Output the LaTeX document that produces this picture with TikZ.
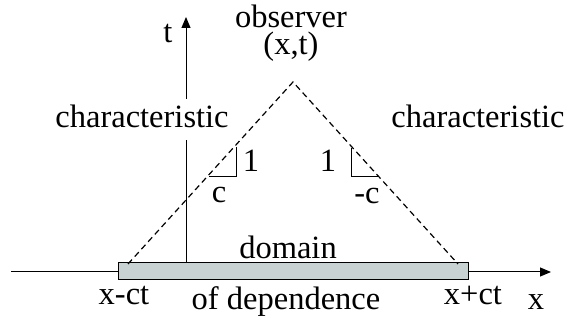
\documentclass[tikz,border=0pt]{standalone}
\usepackage{fontspec}
\setmainfont{Liberation Serif}
\usetikzlibrary{arrows.meta}
\tikzset{
  lbl/.style={font=\fontsize{32.5}{38}\selectfont, inner sep=0pt, anchor=base},
  axis/.style={line width=1pt, -{Triangle[length=11pt,width=9pt]}},
  charlbl/.style={lbl, fill=white, inner xsep=2pt, inner ysep=6pt, text depth=6pt},
  cone/.style={line width=1.2pt, dash pattern=on 6pt off 4pt},
  slope/.style={line width=1pt},
}
\definecolor{domfill}{RGB}{200,210,210}
\begin{document}
\begin{tikzpicture}[x=1pt,y=-1pt]
\useasboundingbox (0,0) rectangle (566,320);
% axes
\coordinate (xs) at (11,272);
\coordinate (xe) at (551,272);
\coordinate (ts) at (186,272);
\coordinate (te) at (186,17);
\draw[axis] (xs) -- (xe);
\draw[axis] (ts) -- (te);
% domain of dependence bar
\node[draw=black, line width=1pt, fill=domfill, minimum width=350pt, minimum height=17pt, inner sep=0pt] (bar) at (293,271.5) {};
% characteristics
\coordinate (apex) at (293,82);
\coordinate (L) at (128,264);
\coordinate (R) at (458,264);
\draw[cone] (L) -- (apex) -- (R);
% slope triangles
\coordinate (l1) at (236,147);
\coordinate (l2) at (236,177);
\coordinate (l3) at (209,177);
\draw[slope] (l1) -- (l2) -- (l3);
\coordinate (r1) at (351,148);
\coordinate (r2) at (351,177);
\coordinate (r3) at (378,177);
\draw[slope] (r1) -- (r2) -- (r3);
% labels
\node[lbl] (tl) at (168,43) {t};
\node[lbl, align=center, font=\fontsize{32.5}{27}\selectfont, anchor=north] (obs) at (291,5) {observer\\(x,t)};
\node[charlbl] (chl) at (142,128) {characteristic};
\node[charlbl] (chr) at (478,128) {characteristic};
\node[lbl] (onel) at (251,172) {1};
\node[lbl] (cl) at (219,203) {c};
\node[lbl] (oner) at (328,172) {1};
\node[lbl] (cr) at (367,204) {-c};
\node[lbl] (dom) at (288,259) {domain};
\node[lbl] (dep) at (286,310) {of dependence};
\node[lbl] (xm) at (124,305) {x-ct};
\node[lbl] (xp) at (473,305) {x+ct};
\node[lbl] (xl) at (536,310) {x};
\end{tikzpicture}
\end{document}
